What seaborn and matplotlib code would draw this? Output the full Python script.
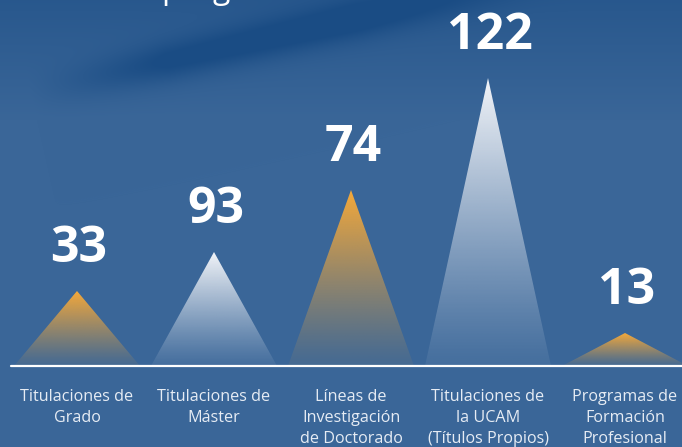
import numpy as np
import seaborn as sns
import matplotlib.pyplot as plt
from matplotlib.patches import Polygon
from matplotlib.colors import to_rgb

# data
categories = ["Titulaciones de\nGrado", "Titulaciones de\nMáster", "Líneas de\nInvestigación\nde Doctorado",
              "Titulaciones de\nla UCAM\n(Títulos Propios)", "Programas de\nFormación\nProfesional"]
values = [33, 93, 74, 122, 13]
peak_heights = [75, 114, 176, 288, 33]  # drawn height of each peak (not proportional to the value)
peak_colors = ["#f5a93a", "#f3f5f9", "#f5a93a", "#f3f5f9", "#f5a93a"]

sns.set_theme(style="white")
plt.rcParams['font.family'] = ['Open Sans', 'DejaVu Sans']

W, H = 682, 447
fig = plt.figure(figsize=(W / 100, H / 100), dpi=100)

# background: blue with a darker diagonal streak
yy, xx = np.mgrid[0:H, 0:W]
base = np.array([58, 102, 152]) / 255
dark = np.array([26, 76, 132]) / 255
# line from (30, 92) to (440, 0)
p0 = np.array([30, 92]); p1 = np.array([440, 0])
d = p1 - p0
t = ((xx - p0[0]) * d[0] + (yy - p0[1]) * d[1]) / (d @ d)
dist = np.abs((xx - p0[0]) * d[1] - (yy - p0[1]) * d[0]) / np.hypot(*d)
band = np.exp(-(dist / 20) ** 2) * np.clip(t * 3, 0, 1) * np.clip((1.3 - t) * 2, 0, 1)
topdark = np.clip(1 - yy / 120, 0, 1) * 0.55
k = np.clip(band * 0.8 + topdark, 0, 1)[..., None]
bg = base * (1 - k) + dark * k
bg_ax = fig.add_axes([0, 0, 1, 1])
bg_ax.imshow(bg, aspect='auto', extent=[0, W, H, 0])
bg_ax.axis('off')

ax = fig.add_axes([0, 0, 1, 1])
ax.patch.set_alpha(0)
sns.barplot(x=list(range(len(values))), y=peak_heights, ax=ax, alpha=0)

half = 0.46
for i, (h, c) in enumerate(zip(peak_heights, peak_colors)):
    n = 256
    g = np.linspace(0, 1, n)[:, None]
    rgba = np.zeros((n, 1, 4))
    rgba[..., :3] = to_rgb(c)
    rgba[..., 3] = 0.06 + 0.94 * g ** 1.15
    im = ax.imshow(rgba, extent=[i - half, i + half, 0, h], origin='lower', aspect='auto', zorder=2)
    tri = Polygon([[i - half, 0], [i, h], [i + half, 0]], closed=True,
                  facecolor='none', edgecolor='none', transform=ax.transData)
    ax.add_patch(tri)
    im.set_clip_path(tri)
    ax.text(i + 0.015, h + 42, str(values[i]), ha='center', va='center', color='white',
            fontsize=36, fontweight='bold')
    ax.text(i, -23, categories[i], ha='center', va='top', color='#e6ecf4',
            fontsize=11.6, linespacing=1.42)

ax.plot([-0.482, 4.5], [0, 0], color='white', lw=1.6, zorder=3)

ax.set_xlim(-0.562, 4.416)
ax.set_ylim(-81, 366)
ax.axis('off')

# title cut off at the top of the picture
fig.text(161 / W, 1 + 2 / H, "programas", color='white', fontsize=23, va='baseline', ha='left')

fig.savefig("out.png", dpi=100)
